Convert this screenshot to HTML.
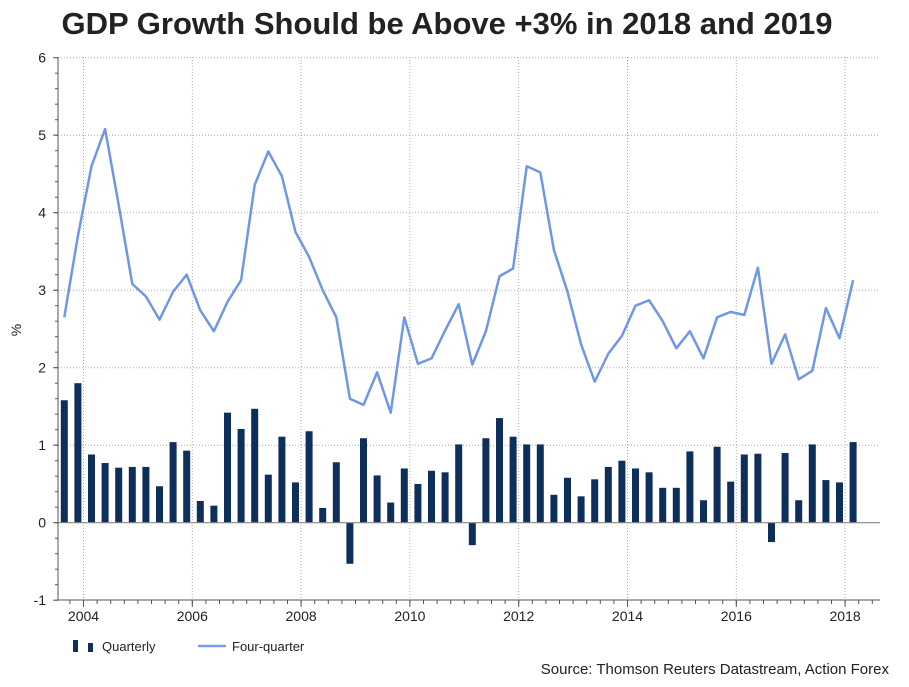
<!DOCTYPE html>
<html><head><meta charset="utf-8"><style>
body{margin:0;background:#fff;font-family:"Liberation Sans",Arial,sans-serif}
svg text{font-family:"Liberation Sans",Arial,sans-serif}
</style></head><body>
<svg id="c" width="909" height="682" xmlns="http://www.w3.org/2000/svg">
<text x="447" y="34" text-anchor="middle" font-size="31" font-weight="bold" fill="#222">GDP Growth Should be Above +3% in 2018 and 2019</text>
<text transform="translate(21,330) rotate(-90)" text-anchor="middle" font-size="14" fill="#222">%</text>
<g id="grid"></g><g id="bars"></g><g id="line"></g><g id="axes"></g>
<g>
<rect x="73" y="640" width="5" height="12" fill="#0d2f5a"/>
<rect x="88" y="643" width="5" height="9" fill="#0d2f5a"/>
<text x="102" y="651" font-size="13" fill="#222">Quarterly</text>
<line x1="198" y1="646" x2="226" y2="646" stroke="#7b9be6" stroke-width="2.5"/>
<text x="232" y="651" font-size="13" fill="#222">Four-quarter</text>
</g>
<text x="889" y="674" text-anchor="end" font-size="15" fill="#222">Source: Thomson Reuters Datastream, Action Forex</text>
</svg>
<script>
const quarterly=[1.58,1.80,0.88,0.77,0.71,0.72,0.72,0.47,1.04,0.93,0.28,0.22,1.42,1.21,1.47,0.62,1.11,0.52,1.18,0.19,0.78,-0.53,1.09,0.61,0.26,0.70,0.50,0.67,0.65,1.01,-0.29,1.09,1.35,1.11,1.01,1.01,0.36,0.58,0.34,0.56,0.72,0.80,0.70,0.65,0.45,0.45,0.92,0.29,0.98,0.53,0.88,0.89,-0.25,0.90,0.29,1.01,0.55,0.52,1.04];
const fourQuarter=[2.65,3.7,4.6,5.08,4.1,3.08,2.92,2.62,2.98,3.2,2.74,2.47,2.85,3.13,4.36,4.79,4.47,3.75,3.43,3.0,2.65,1.6,1.52,1.94,1.42,2.65,2.05,2.12,2.48,2.82,2.04,2.47,3.18,3.28,4.6,4.52,3.52,2.98,2.3,1.82,2.18,2.41,2.8,2.87,2.6,2.25,2.47,2.12,2.65,2.72,2.68,3.29,2.05,2.43,1.85,1.96,2.77,2.38,3.13];
const yTicks=[-1,0,1,2,3,4,5,6];
const xYears=[2004,2006,2008,2010,2012,2014,2016,2018];
const NS="http://www.w3.org/2000/svg";
const X0=58,X1=880;
function y(v){return 522.7-v*77.5;}
function xi(i){return 64.3+i*13.6;}
function xYear(yr){return 83.5+(yr-2004)*54.4;}
function mk(tag,attrs,parent){const e=document.createElementNS(NS,tag);for(const k in attrs)e.setAttribute(k,attrs[k]);parent.appendChild(e);return e;}
const grid=document.getElementById('grid'),bars=document.getElementById('bars'),line=document.getElementById('line'),axes=document.getElementById('axes');
yTicks.forEach(t=>{
 if(t!==-1&&t!==0){const g=mk('line',{x1:X0,x2:X1,y1:y(t),y2:y(t),stroke:'#aaa','stroke-dasharray':'1,2'},grid);
 
 }
 const tx=mk('text',{x:46,y:y(t)+5,'text-anchor':'end','font-size':14,fill:'#222'},axes);tx.textContent=t;
 
 
 mk('line',{x1:X0-5,x2:X0,y1:y(t),y2:y(t),stroke:'#555'},axes);
});
for(let v=-1;v<6;v+=0.2){mk('line',{x1:X0-3,x2:X0,y1:y(v),y2:y(v),stroke:'#555'},axes);}
xYears.forEach(yr=>{
 const g=mk('line',{x1:xYear(yr),x2:xYear(yr),y1:57,y2:600,stroke:'#aaa','stroke-dasharray':'1,2'},grid);
 
 
 const tx=mk('text',{x:xYear(yr),y:621,'text-anchor':'middle','font-size':14,fill:'#222'},axes);tx.textContent=yr;
 
 
 mk('line',{x1:xYear(yr),x2:xYear(yr),y1:600,y2:607,stroke:'#555'},axes);
});
for(let q=0;q<61;q++){const xx=83.5+(q-1)*13.6;if(xx>X0&&xx<X1)mk('line',{x1:xx,x2:xx,y1:600,y2:604,stroke:'#555'},axes);}
quarterly.forEach((v,i)=>{
 const r=mk('rect',{x:xi(i)-3.5,y:Math.min(y(v),y(0)),width:7,height:Math.abs(y(v)-y(0)),fill:'#0d2f5a'},bars);
 
 
});
const z=mk('line',{x1:X0,x2:X1,y1:y(0),y2:y(0),stroke:'#888','stroke-width':1.2},axes);


const p=mk('polyline',{points:fourQuarter.map((v,i)=>xi(i)+','+y(v)).join(' '),fill:'none',stroke:'#7096e6','stroke-width':2.5,'stroke-linejoin':'round'},line);


const ya=mk('line',{x1:X0,x2:X0,y1:57,y2:600,stroke:'#555'},axes);


const xa=mk('line',{x1:X0,x2:X1,y1:600,y2:600,stroke:'#555'},axes);


</script>
</body></html>
